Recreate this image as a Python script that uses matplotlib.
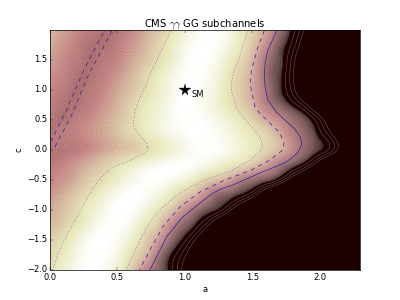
import numpy as np
import matplotlib
matplotlib.use('Agg')
import matplotlib.pyplot as plt
import matplotlib.tri as mtri

plt.style.use('classic')

# grid of the table below, values
a_grid = np.arange(24) * 0.1
c_grid = np.arange(17) * 0.25 - 2.0

z_rows = [
    # c = -2.0 up to c = 2.0
    [.28, .15, .04, .00, .04, .17, .34, .57, .73, .90, 1.15, 1.45, 1.75, 2.05, 2.35, 2.65, 2.95, 3.25, 3.55, 3.85, 4.15, 4.45, 4.75, 5.05],
    [.30, .20, .09, .01, .01, .09, .25, .41, .65, .86, 1.06, 1.36, 1.66, 1.96, 2.26, 2.56, 2.86, 3.16, 3.46, 3.76, 4.06, 4.36, 4.66, 4.96],
    [.33, .25, .14, .03, .00, .05, .16, .32, .50, .72, .90, 1.15, 1.45, 1.75, 2.05, 2.35, 2.65, 2.95, 3.25, 3.55, 3.85, 4.15, 4.45, 4.75],
    [.39, .33, .23, .12, .02, .01, .07, .22, .36, .58, .74, .90, 1.15, 1.45, 1.75, 2.05, 2.35, 2.65, 2.95, 3.25, 3.55, 3.85, 4.15, 4.45],
    [.44, .37, .28, .17, .07, .00, .02, .10, .23, .38, .56, .72, .82, .97, 1.27, 1.57, 1.87, 2.17, 2.47, 2.77, 3.07, 3.37, 3.67, 3.97],
    [.50, .43, .34, .25, .15, .05, .00, .03, .10, .21, .34, .47, .66, .75, .85, 1.0, 1.3, 1.6, 1.9, 2.2, 2.5, 2.8, 3.1, 3.4],
    [.55, .49, .43, .33, .26, .17, .08, .02, .01, .05, .13, .25, .37, .45, .60, .70, .79, .93, 1.21, 1.51, 1.81, 2.11, 2.41, 2.71],
    [.58, .54, .49, .42, .34, .26, .18, .11, .05, .01, .01, .05, .11, .19, .26, .37, .50, .65, .79, .95, 1.24, 1.54, 1.84, 2.14],
    [.60, .58, .56, .52, .46, .40, .34, .28, .21, .14, .07, .02, .01, .05, .12, .21, .31, .42, .58, .72, .84, 1.0, 1.3, 1.6],
    [.60, .56, .54, .50, .45, .38, .30, .23, .15, .08, .03, .00, .02, .07, .14, .22, .30, .45, .60, .72, .88, 1.09, 1.39, 1.69],
    [.58, .61, .57, .52, .46, .38, .29, .20, .12, .05, .01, .01, .05, .12, .21, .32, .45, .56, .68, .80, 1.0, 1.3, 1.6, 1.9],
    [.56, .60, .60, .56, .50, .42, .32, .22, .14, .05, .00, .03, .10, .20, .30, .43, .60, .73, .87, 1.06, 1.36, 1.66, 1.96, 2.26],
    [.53, .58, .61, .58, .53, .46, .37, .28, .18, .08, .00, .02, .09, .21, .33, .47, .65, .82, 1.03, 1.33, 1.63, 1.93, 2.23, 2.53],
    [.50, .55, .60, .60, .56, .50, .42, .31, .21, .10, .02, .01, .07, .19, .32, .46, .68, .82, 1.06, 1.36, 1.66, 1.96, 2.26, 2.56],
    [.47, .53, .58, .61, .58, .54, .47, .38, .28, .17, .05, .00, .03, .14, .27, .43, .65, .80, 1.03, 1.33, 1.63, 1.93, 2.23, 2.53],
    [.44, .50, .56, .60, .60, .57, .50, .42, .31, .20, .08, .01, .01, .08, .20, .36, .56, .77, .95, 1.24, 1.54, 1.84, 2.14, 2.44],
    [.40, .47, .53, .57, .60, .60, .55, .47, .37, .27, .14, .04, .00, .05, .18, .32, .47, .68, .88, 1.12, 1.42, 1.72, 2.02, 2.32],
]

# contours
dot_left_a = [.896, .792, .705, .655, .631, .618, .622, .643, .677, .717, .729, .705, .668, .579, .467, .371, .297, .223, .134, .059, .022]
dot_left_c = [1.99, 1.5, 1.055, .80, .638, .45, .37, .305, .21, .11, 0.0, -.05, -.083, -.195, -.278, -.467, -.717, -1.028, -1.383, -1.717, -2.0]

dot_right_a = [1.469, 1.422, 1.358, 1.345, 1.35, 1.385, 1.43, 1.484, 1.558, 1.578, 1.558, 1.484, 1.358, 1.237, 1.113, .965, .838, .742, .68, .616, .564]
dot_right_c = [1.99, 1.667, 1.25, 1.10, .95, .70, .56, .417, .222, .055, -.028, -.167, -.333, -.433, -.533, -.717, -.945, -1.195, -1.445, -1.75, -2.0]

dash_right_a = [1.59, 1.543, 1.496, 1.486, 1.489, 1.521, 1.56, 1.608, 1.706, 1.736, 1.727, 1.632, 1.484, 1.298, 1.113, .965, .838, .755, .663]
dash_right_c = [1.99, 1.72, 1.333, 1.19, 1.055, .722, .60, .5, .283, .117, 0.0, -.167, -.345, -.5, -.70, -.945, -1.278, -1.612, -2.0]

solid_a = [1.682, 1.65, 1.617, 1.597, 1.59, 1.596, 1.617, 1.68, 1.756, 1.815, 1.855, 1.868, 1.862, 1.84, 1.80, 1.756, 1.66, 1.558, 1.46, 1.358, 1.28, 1.209, 1.113, .977, .866, .742]
solid_c = [1.99, 1.83, 1.667, 1.47, 1.283, 1.05, .833, .63, .472, .35, .222, .12, .055, -.04, -.12, -.195, -.29, -.383, -.48, -.583, -.64, -.717, -.883, -1.133, -1.445, -2.0]

ridge1_a = [.005, .124, .245, .393, .408]
ridge1_c = [.138, .667, 1.305, 1.95, 2.0]
ridge2_a = [.037, .161, .284, .445, .46]
ridge2_c = [.055, .583, 1.25, 1.917, 2.0]

sm_a = 1.0
sm_c = 1.0

z = np.array(z_rows)

# let matplotlib smooth the coarse table when it draws it
aa, cc = np.meshgrid(a_grid, c_grid)
tri = mtri.Triangulation(aa.ravel(), cc.ravel())
refiner = mtri.UniformTriRefiner(tri)
tri_fine, z_fine = refiner.refine_field(z.ravel(), subdiv=3)

fig = plt.figure(figsize=(8, 6), dpi=50)
ax = fig.add_subplot(111)
levels = np.linspace(0, .85, 150)
ax.tricontourf(tri_fine, z_fine, levels=levels, cmap='pink_r', extend='both', antialiased=True)
# second pass half see-through, keeps the seams between levels faint but visible
ax.tricontourf(tri_fine, z_fine, levels=levels, cmap='pink_r', extend='both', antialiased=True, alpha=.55)
ax.tricontour(tri_fine, z_fine, levels=[.92, 1.0, 1.08], colors='#8a6a62', linewidths=.6)

line_col = '#2222a0'
ax.plot(dot_left_a, dot_left_c, ':', color=line_col, lw=.8)
ax.plot(dot_right_a, dot_right_c, ':', color=line_col, lw=.8)
ax.plot(dash_right_a, dash_right_c, '--', color=line_col)
ax.plot(ridge1_a, ridge1_c, '--', color=line_col)
ax.plot(ridge2_a, ridge2_c, '--', color=line_col)
ax.plot(solid_a, solid_c, '-', color=line_col)

ax.plot(sm_a, sm_c, 'k*', markersize=17)
ax.text(1.05, .93, 'SM', fontsize=12, va='center')

ax.set_xlim(0, 2.3)
ax.set_ylim(-2, 2)
ax.set_yticks([-2, -1.5, -1, -.5, 0, .5, 1, 1.5])
ax.set_xlabel('a')
ax.set_ylabel('c')
ax.set_title(r'CMS $\gamma\gamma$ GG subchannels')
fig.savefig('out.png', dpi=50)
